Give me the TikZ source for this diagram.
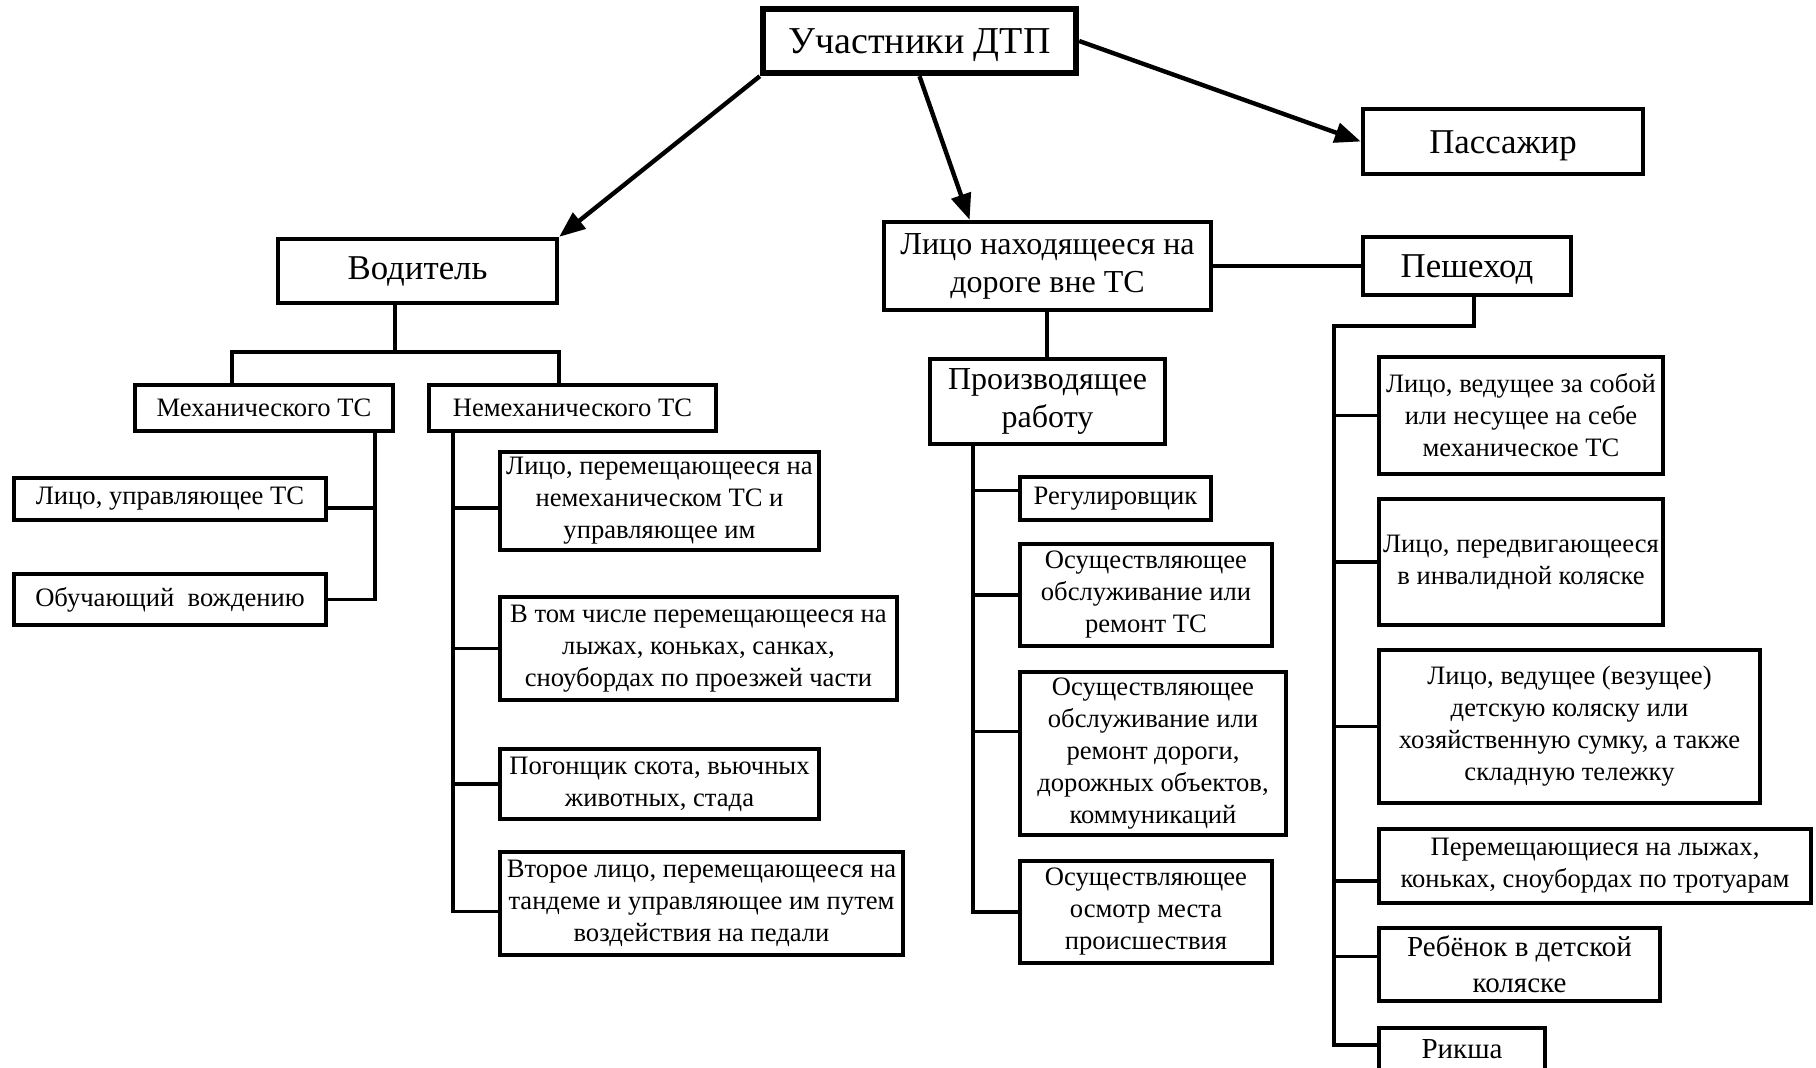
\documentclass[tikz,border=0pt]{standalone}
\usepackage{fontspec}
\setmainfont{Liberation Serif}
\usetikzlibrary{arrows.meta,calc}
\newcommand{\bx}[7]{%
  \node[box,#6,minimum width={(#4-#2-4)*0.5pt},minimum height={(#5-#3-4)*0.5pt}] (#1) at ({(#2+#4)/2},{(#3+#5)/2}) {#7};}
\begin{document}
\begin{tikzpicture}[x=0.5pt,y=-0.5pt,
  box/.style={draw,line width=2.2pt,inner sep=0pt,align=center},
  title/.style={font=\fontsize{19}{22}\selectfont,line width=3.2pt,text height=12.6pt,text depth=0pt},
  big/.style={font=\fontsize{17.4}{20}\selectfont},
  bigc/.style={big,text height=11.5pt,text depth=0pt},
  bigb/.style={font=\fontsize{16}{19}\selectfont},
  small/.style={font=\fontsize{13.3}{16}\selectfont},
  mid/.style={font=\fontsize{14.5}{18}\selectfont},
  conn/.style={line width=1.9pt},
  arr/.style={line width=2.2pt,-{Triangle[length=13pt,width=10pt]}}]
\useasboundingbox (0,0) rectangle (1816,1067);
\clip (0,0) rectangle (1816,1067);

% top level
\bx{top}{761}{7}{1078}{75}{title}{Участники ДТП}
\bx{vod}{276}{237}{559}{305}{big}{Водитель}
\bx{pas}{1361}{107}{1645}{176}{bigc}{Пассажир}
\bx{lico}{882}{220}{1213}{312}{bigb}{Лицо находящееся на\\дороге вне ТС}
\bx{pesh}{1361}{235}{1573}{297}{bigc}{Пешеход}

% driver branch
\bx{mech}{133}{383}{395}{433}{small}{Механического ТС}
\bx{nemech}{427}{383}{718}{433}{small}{Немеханического ТС}
\bx{lu}{12}{476}{328}{522}{small}{Лицо, управляющее ТС}
\bx{obuch}{12}{572}{328}{627}{small}{Обучающий\ \ вождению}
\bx{nm1}{498}{450}{821}{552}{small}{Лицо, перемещающееся на\\немеханическом ТС и\\управляющее им}
\bx{nm2}{498}{595}{899}{702}{small}{В том числе перемещающееся на\\лыжах, коньках, санках,\\сноубордах по проезжей части}
\bx{nm3}{498}{747}{821}{821}{small}{Погонщик скота, вьючных\\животных, стада}
\bx{nm4}{498}{850}{905}{957}{small}{Второе лицо, перемещающееся на\\тандеме и управляющее им путем\\воздействия на педали}

% working person branch
\bx{work}{928}{357}{1167}{446}{bigb}{Производящее\\работу}
\bx{w1}{1018}{475}{1213}{522}{small}{Регулировщик}
\bx{w2}{1018}{542}{1274}{648}{small}{Осуществляющее\\обслуживание или\\ремонт ТС}
\bx{w3}{1018}{670}{1288}{837}{small}{Осуществляющее\\обслуживание или\\ремонт дороги,\\дорожных объектов,\\коммуникаций}
\bx{w4}{1018}{859}{1274}{965}{small}{Осуществляющее\\осмотр места\\происшествия}

% pedestrian branch
\bx{p1}{1377}{355}{1665}{476}{small}{Лицо, ведущее за собой\\или несущее на себе\\механическое ТС}
\bx{p2}{1377}{497}{1665}{627}{small}{Лицо, передвигающееся\\в инвалидной коляске}
\bx{p3}{1377}{648}{1762}{805}{small}{Лицо, ведущее (везущее)\\детскую коляску или\\хозяйственную сумку, а также\\складную тележку}
\bx{p4}{1377}{827}{1813}{905}{small}{Перемещающиеся на лыжах,\\коньках, сноубордах по тротуарам}
\bx{p5}{1377}{926}{1662}{1003}{mid}{Ребёнок в детской\\коляске}
\bx{p6}{1377}{1026}{1547}{1072}{mid}{Рикша}

% arrows
\draw[arr] (top.south west) -- (vod.north east);
\draw[arr] (top.south) -- ($(lico.north west)!0.265!(lico.north east)$);
\draw[arr] (top.east) -- (pas.west);
\draw[conn] (lico.east) -- (pesh.west);

% driver tree
\coordinate (vj) at (395,352);
\coordinate (vl) at (232,352);
\coordinate (vr) at (559,352);
\draw[conn] (vod.south -| vj) -- (vj);
\draw[conn] (mech.north -| vl) -- (vl) -- (vr) -- (nemech.north -| vr);

\coordinate (mcx) at (375,433);
\draw[conn] (mech.south -| mcx) -- (mcx |- obuch.east) -- (obuch.east);
\draw[conn] ($(lu.east)+(0,9)$) -- ($(mcx |- lu.east)+(0,9)$);

\coordinate (ncx) at (453,433);
\draw[conn] (nemech.south -| ncx) -- ($(ncx |- nm4.west)+(0,8)$) -- ($(nm4.west)+(0,8)$);
\draw[conn] ($(ncx |- nm1.west)+(0,7)$) -- ($(nm1.west)+(0,7)$);
\draw[conn] (ncx |- nm2.west) -- (nm2.west);
\draw[conn] (ncx |- nm3.west) -- (nm3.west);

% work tree
\coordinate (lj) at (1047,312);
\draw[conn] (lico.south -| lj) -- (work.north -| lj);
\coordinate (wcx) at (973,446);
\draw[conn] (work.south -| wcx) -- (wcx |- w4.west) -- (w4.west);
\draw[conn] ($(wcx |- w1.west)+(0,-8)$) -- ($(w1.west)+(0,-8)$);
\draw[conn] (wcx |- w2.west) -- (w2.west);
\draw[conn] ($(wcx |- w3.west)+(0,-22)$) -- ($(w3.west)+(0,-22)$);

% pedestrian tree
\coordinate (pj) at (1474,326);
\coordinate (pcx) at (1334,326);
\draw[conn] (pesh.south -| pj) -- (pj) -- (pcx) -- ($(pcx |- p6.west)+(0,-4)$) -- ($(p6.west)+(0,-4)$);
\draw[conn] (pcx |- p1.west) -- (p1.west);
\draw[conn] (pcx |- p2.west) -- (p2.west);
\draw[conn] (pcx |- p3.west) -- (p3.west);
\draw[conn] ($(pcx |- p4.west)+(0,15)$) -- ($(p4.west)+(0,15)$);
\draw[conn] ($(pcx |- p5.west)+(0,-8)$) -- ($(p5.west)+(0,-8)$);
\end{tikzpicture}
\end{document}
